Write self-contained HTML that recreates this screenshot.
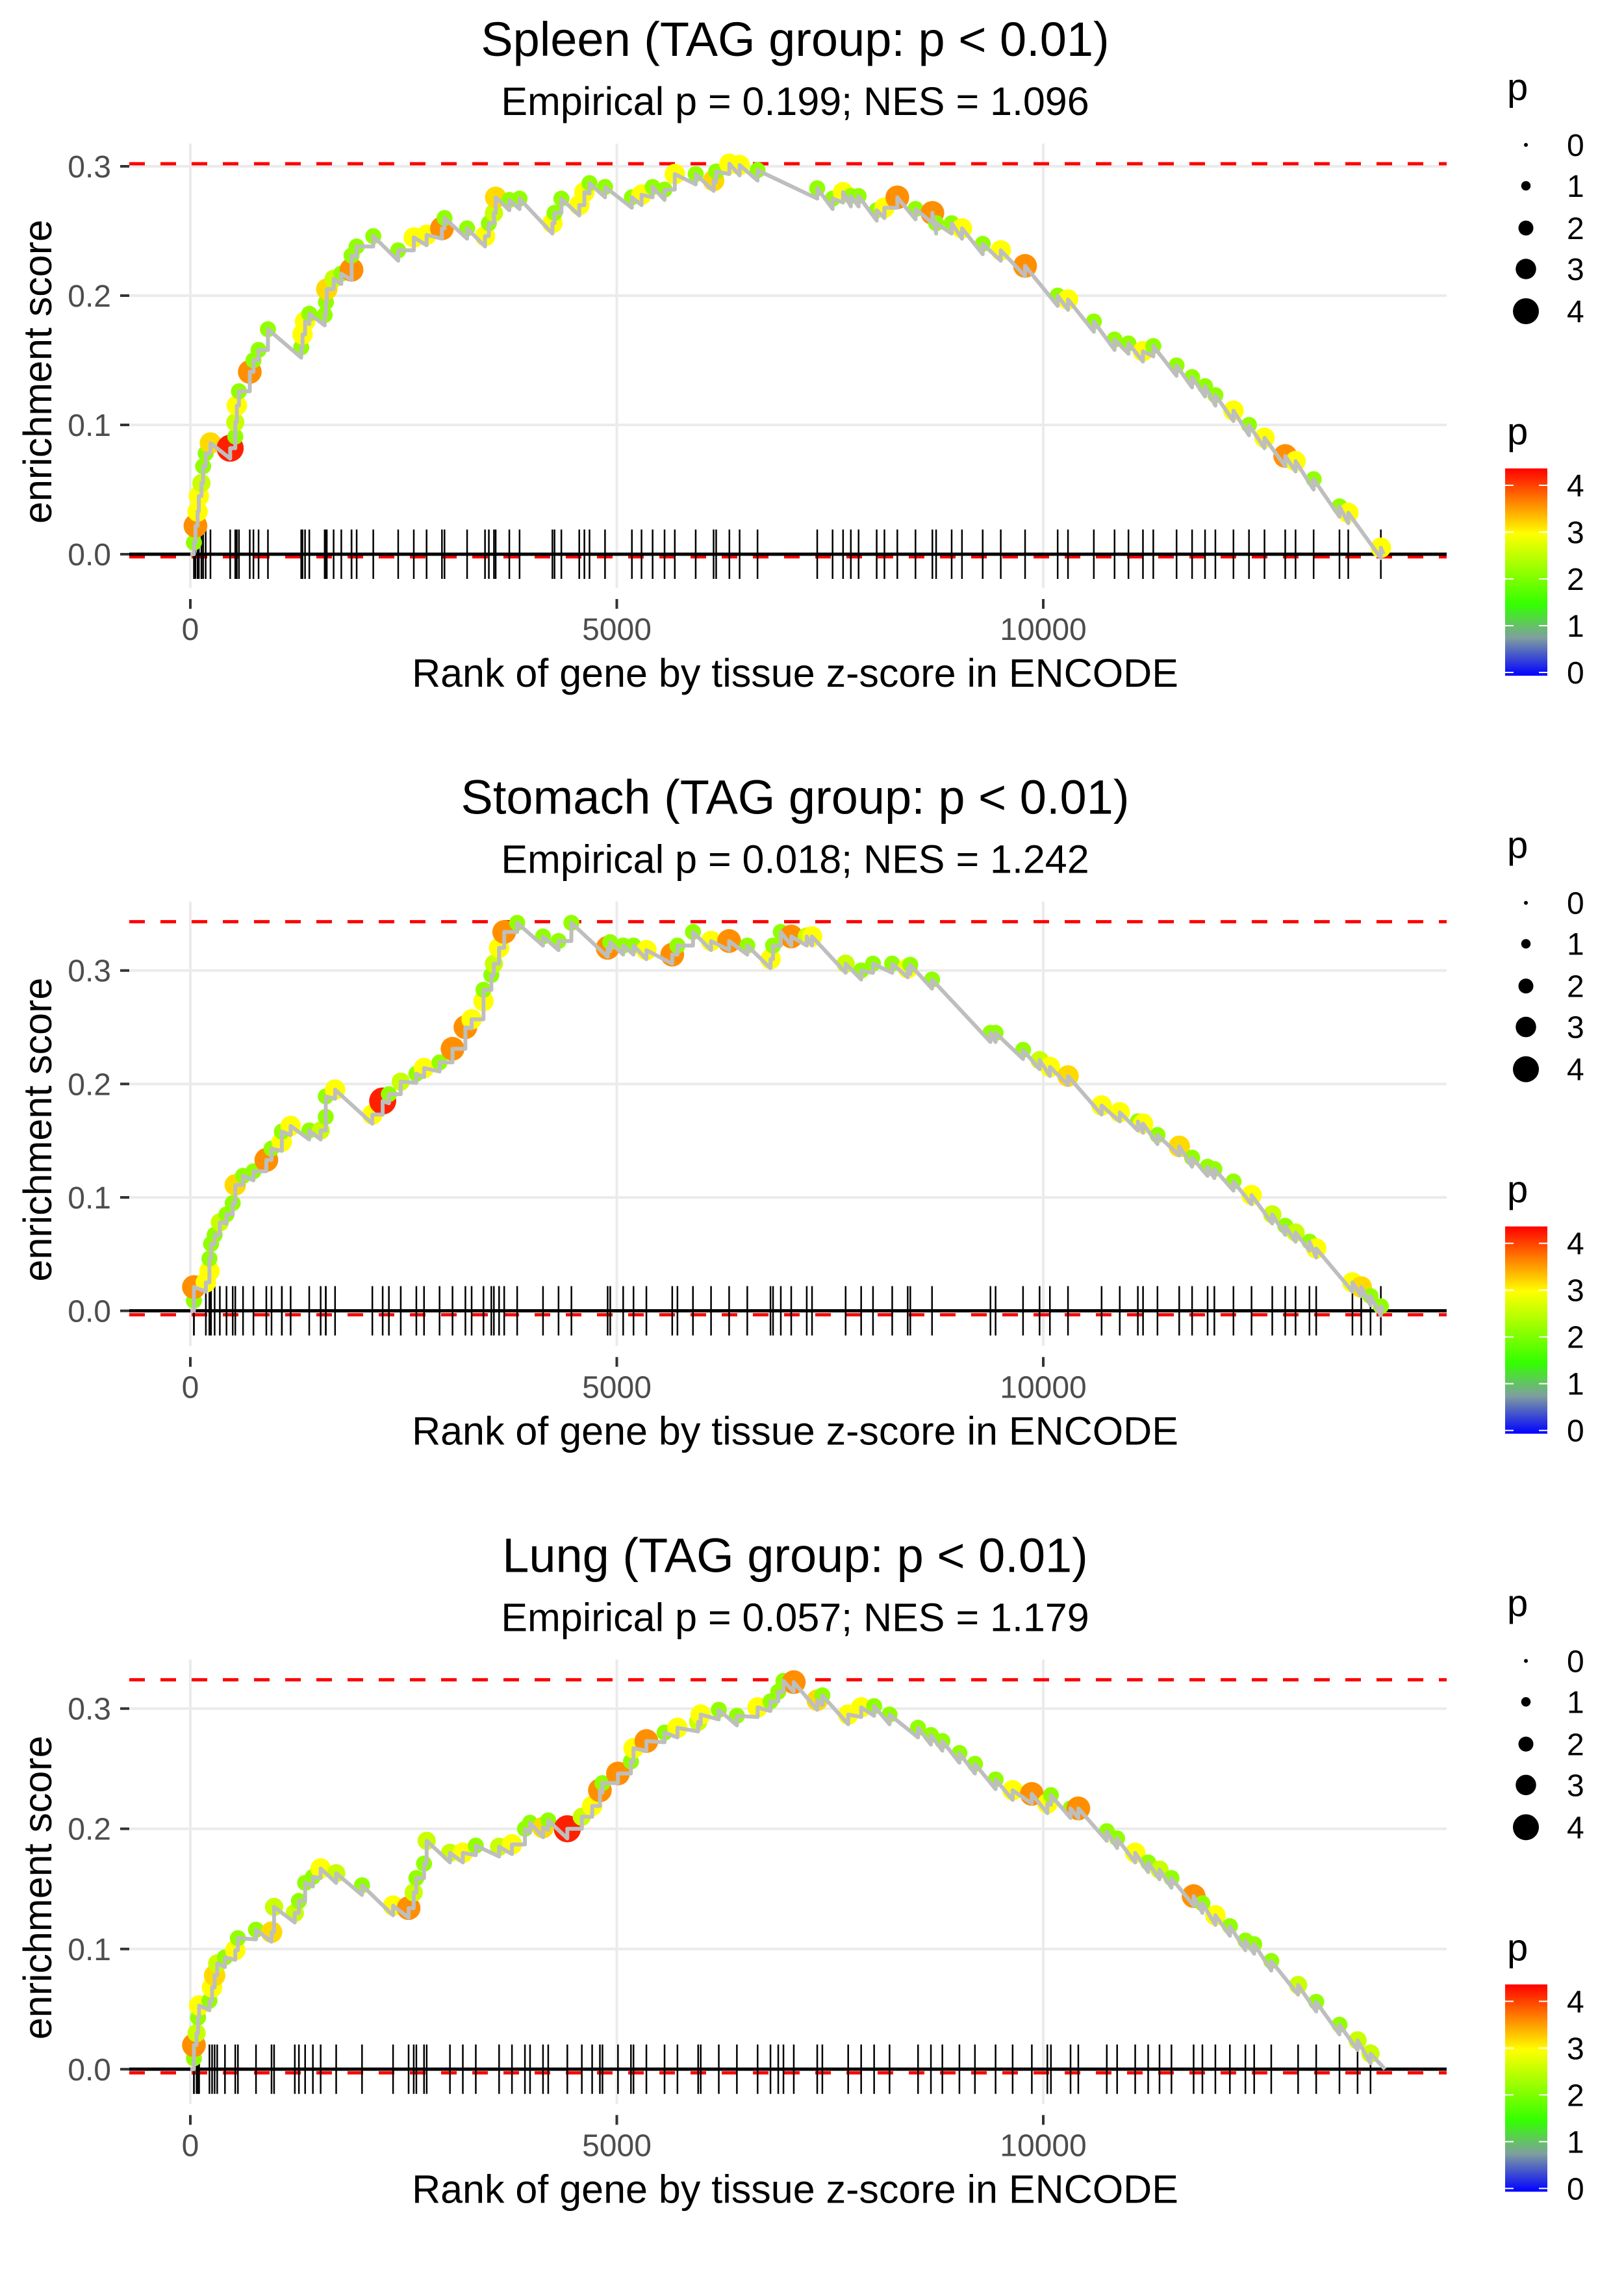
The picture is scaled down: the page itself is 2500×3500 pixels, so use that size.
<!DOCTYPE html>
<html><head><meta charset="utf-8"><style>
html,body{margin:0;padding:0;background:#fff;}
svg{display:block;font-family:"Liberation Sans",Arial,sans-serif;}
</style></head><body>
<svg id="chart" xmlns="http://www.w3.org/2000/svg" width="2500" height="3500" viewBox="0 0 2500 3500">
<defs>
<linearGradient id="pgrad" x1="0" y1="1" x2="0" y2="0">
<stop offset="0" stop-color="#0000ff"/>
<stop offset="0.183" stop-color="#7f9f9f"/>
<stop offset="0.343" stop-color="#33ff00"/>
<stop offset="0.686" stop-color="#ffff00"/>
<stop offset="1" stop-color="#ff0000"/>
</linearGradient>
</defs>
</svg>
<script>
// ---------- data ----------
const tissues = ["Spleen", "Stomach", "Lung"];
const empiricalP = ["0.199", "0.018", "0.057"];
const nesValues = ["1.096", "1.242", "1.179"];
const esMax = [0.302, 0.343, 0.324];
const esMin = [-0.002, -0.0035, -0.003];
const totalGenes = [13990, 13995, 14007];
const xTicks = [0, 5000, 10000];
const xTickLabels = ["0", "5000", "10000"];
const yTicks = [0, 0.1, 0.2, 0.3];
const yTickLabels = ["0.0", "0.1", "0.2", "0.3"];
const legendSizes = [0, 1, 2, 3, 4];

const ranks1 = [42,60,85,100,130,150,180,236,467,527,527,545,570,697,740,800,910,1300,1315,1345,1395,1575,1590,1600,1680,1770,1890,1890,1950,2145,2437,2620,2770,2950,2980,3245,3455,3500,3560,3580,3740,3860,4245,4270,4350,4560,4620,4680,4862,5177,5290,5420,5560,5680,5925,6135,6165,6320,6440,6650,7350,7530,7653,7744,7835,8047,8138,8289,8502,8700,8744,8926,9047,9290,9502,9787,10169,10290,10593,10836,10999,11169,11290,11563,11745,11897,12018,12230,12412,12594,12837,12958,13170,13473,13576,13958];
const es1 = [.009,.022,.033,.045,.055,.068,.078,.086,.082,.091,.102,.115,.126,.141,.150,.158,.174,.160,.170,.180,.186,.185,.195,.205,.213,.217,.220,.231,.238,.246,.235,.245,.247,.252,.260,.252,.246,.256,.264,.276,.274,.275,.256,.264,.275,.270,.280,.287,.284,.276,.278,.284,.282,.294,.294,.289,.296,.302,.301,.297,.283,.275,.280,.277,.277,.266,.268,.276,.267,.264,.256,.256,.252,.240,.235,.223,.200,.197,.180,.166,.163,.157,.161,.146,.137,.130,.123,.111,.100,.090,.076,.072,.058,.037,.032,.005];
const p1 = [2.2,3.6,3.0,3.0,2.6,2.2,2.2,3.2,4.2,2.2,2.6,3.0,2.2,3.6,2.2,2.2,2.2,2.2,3.0,3.0,2.2,2.2,2.2,3.2,2.6,2.2,3.6,2.2,2.2,2.2,2.2,3.0,3.0,3.6,2.2,2.2,3.0,2.2,2.6,3.2,2.2,2.2,3.0,2.2,2.2,3.0,3.0,2.2,2.2,2.2,3.0,2.2,2.2,3.0,2.2,3.2,2.2,3.0,3.0,2.2,2.2,2.2,3.0,2.2,2.2,2.2,3.0,3.6,2.2,3.6,2.2,2.2,3.0,2.2,3.0,3.6,2.2,3.0,2.2,2.2,2.2,3.0,2.2,2.2,2.2,2.2,2.2,3.0,2.2,3.0,3.6,3.0,2.2,2.2,3.0,3.0];

const ranks2 = [42,42,182,224,224,243,285,346,424,497,527,618,740,891,952,1073,1073,1176,1394,1528,1588,1588,1697,2134,2255,2328,2467,2650,2740,2922,3074,3225,3298,3437,3437,3529,3559,3620,3680,3832,4135,4317,4468,4893,4923,5075,5196,5347,5650,5711,5893,6105,6317,6530,6802,6832,6923,7045,7227,7289,7683,7865,8004,8229,8411,8441,8696,9381,9441,9763,9957,10078,10290,10684,10897,11109,11170,11339,11594,11745,11927,12006,12230,12442,12685,12837,12958,13121,13200,13625,13728,13837,13958];
const es2 = [.009,.021,.025,.035,.046,.059,.067,.078,.085,.095,.111,.119,.123,.133,.143,.149,.158,.163,.159,.159,.171,.189,.195,.173,.185,.191,.202,.209,.214,.219,.231,.250,.257,.273,.283,.296,.306,.320,.334,.342,.330,.326,.342,.320,.325,.322,.322,.318,.314,.322,.334,.326,.326,.322,.310,.322,.334,.330,.330,.330,.306,.300,.306,.306,.302,.305,.292,.245,.245,.230,.221,.215,.207,.181,.175,.167,.165,.155,.145,.135,.127,.125,.114,.102,.085,.075,.069,.061,.055,.025,.021,.013,.004];
const p2 = [2.2,3.6,3.0,3.0,2.2,2.2,2.2,2.6,2.2,2.2,3.2,2.2,2.2,3.6,2.2,3.0,2.2,3.0,2.2,2.6,2.2,2.2,3.0,3.0,4.2,2.2,2.6,2.2,3.0,2.2,3.6,3.6,3.0,3.0,2.2,2.2,2.6,3.0,3.6,2.2,2.2,2.2,2.2,3.6,2.2,2.2,2.2,3.0,3.6,2.2,2.2,3.0,3.6,2.2,3.0,2.2,2.2,3.6,2.6,3.0,2.6,2.2,2.2,2.2,3.0,2.2,2.2,2.2,2.2,2.2,2.6,3.0,3.2,3.0,3.0,2.2,3.0,2.2,3.2,2.2,2.2,2.2,2.2,3.0,2.6,2.2,2.6,2.2,3.0,3.0,3.2,2.2,2.2];

const ranks3 = [42,42,73,91,103,224,255,285,315,406,527,558,770,952,982,1225,1273,1346,1437,1528,1710,2013,2377,2559,2619,2650,2740,2771,3044,3195,3347,3620,3771,3923,3983,4135,4196,4420,4590,4711,4802,4832,5014,5166,5196,5347,5560,5711,5954,5984,6196,6408,6651,6802,6893,6954,7075,7350,7410,7713,7865,8017,8198,8532,8683,8817,9017,9199,9441,9641,9866,10048,10090,10320,10411,10745,10866,11078,11230,11363,11503,11763,11866,12018,12188,12370,12473,12673,12988,13200,13473,13685,13837];
const es3 = [.009,.020,.030,.043,.053,.057,.068,.078,.088,.093,.099,.109,.116,.114,.135,.130,.140,.155,.160,.167,.163,.153,.136,.134,.147,.159,.171,.190,.180,.180,.186,.185,.187,.200,.205,.201,.207,.200,.210,.219,.232,.238,.246,.256,.267,.273,.280,.284,.289,.295,.299,.294,.301,.306,.314,.323,.322,.307,.311,.295,.301,.302,.295,.284,.278,.273,.263,.254,.241,.232,.229,.221,.228,.217,.217,.198,.192,.180,.172,.166,.159,.144,.138,.128,.119,.107,.104,.090,.070,.056,.037,.024,.013];
const p3 = [2.2,3.6,2.6,2.2,3.0,2.2,3.0,3.2,2.6,2.2,3.0,2.2,2.2,3.2,2.6,2.6,2.2,2.2,2.2,3.0,2.6,2.2,3.0,3.6,2.6,2.2,2.2,2.6,2.6,3.0,2.2,2.6,3.0,2.2,2.2,3.2,2.2,4.2,2.6,3.0,3.6,2.2,3.6,2.2,3.0,3.6,2.2,3.0,2.6,3.0,2.2,2.2,3.0,2.2,2.2,2.2,3.6,3.2,2.2,3.0,3.0,2.2,2.2,2.2,2.2,2.2,2.2,2.2,2.2,3.0,3.6,3.0,2.2,2.2,3.6,2.2,2.2,3.0,2.2,2.6,2.2,3.6,2.2,3.0,2.2,2.2,2.2,2.2,2.6,2.2,2.2,2.6,2.6];

const allRanks = [ranks1, ranks2, ranks3];
const allES = [es1, es2, es3];
const allP = [p1, p2, p3];

// ---------- helpers ----------
const NS = "http://www.w3.org/2000/svg";
const svg = document.getElementById("chart");
const PANEL_H = 3500 / 3;
const X0 = 293, XPER = 0.1313;
const PLOT_L = 199, PLOT_R = 2227;
const Y_TOP = 252, Y_BOT = 857;
function xScale(r) { return X0 + r * XPER; }
function makeYScale(k) {
  const lo = esMin[k], hi = esMax[k];
  return v => Y_BOT - (v - lo) / (hi - lo) * (Y_BOT - Y_TOP);
}
function mk(tag, attrs, parent) {
  const e = document.createElementNS(NS, tag);
  for (const a in attrs) e.setAttribute(a, attrs[a]);
  parent.appendChild(e);
  return e;
}
const cStops = [[0,[0,0,255]],[0.8,[127,159,159]],[1.5,[51,255,0]],[3.0,[255,255,0]],[4.37,[255,0,0]]];
function pColor(p) {
  for (let i = 1; i < cStops.length; i++) {
    if (p <= cStops[i][0]) {
      const a = cStops[i-1], b = cStops[i];
      const t = (p - a[0]) / (b[0] - a[0]);
      const c = a[1].map((v, j) => Math.round(v + (b[1][j] - v) * t));
      return "rgb(" + c.join(",") + ")";
    }
  }
  return "rgb(255,0,0)";
}
function pRadius(p) { return 3 + 4.25 * p; }

for (let k = 0; k < 3; k++) {
  const g = mk("g", {transform: "translate(0," + (k * PANEL_H).toFixed(2) + ")"}, svg);
  
  
  const yS = makeYScale(k);
  const ranks = allRanks[k], es = allES[k], ps = allP[k];

  const t = mk("text", {x: 1224, y: 86, "text-anchor": "middle", "font-size": 74, fill: "#000"}, g);
  t.textContent = tissues[k] + " (TAG group: p < 0.01)";
  
  
  const st = mk("text", {x: 1224, y: 177, "text-anchor": "middle", "font-size": 61, fill: "#000"}, g);
  st.textContent = "Empirical p = " + empiricalP[k] + "; NES = " + nesValues[k];
  
  

  yTicks.forEach((v, i) => {
    const gl = mk("line", {x1: PLOT_L, x2: PLOT_R, y1: yS(v), y2: yS(v), stroke: "#ebebeb", "stroke-width": 4}, g);
    
    
    const tk = mk("line", {x1: 185, x2: 199, y1: yS(v), y2: yS(v), stroke: "#333", "stroke-width": 4}, g);
    
    
    const tl = mk("text", {x: 171, y: yS(v) + 17, "text-anchor": "end", "font-size": 48, fill: "#4d4d4d"}, g);
    tl.textContent = yTickLabels[i];
    
    
  });
  xTicks.forEach((v, i) => {
    const gl = mk("line", {x1: xScale(v), x2: xScale(v), y1: 221, y2: 905, stroke: "#ebebeb", "stroke-width": 4}, g);
    
    
    const tk = mk("line", {x1: xScale(v), x2: xScale(v), y1: 922, y2: 937, stroke: "#333", "stroke-width": 4}, g);
    
    
    const tl = mk("text", {x: xScale(v), y: 985, "text-anchor": "middle", "font-size": 48, fill: "#4d4d4d"}, g);
    tl.textContent = xTickLabels[i];
    
    
  });

  const xt = mk("text", {x: 1224, y: 1057, "text-anchor": "middle", "font-size": 61, fill: "#000"}, g);
  xt.textContent = "Rank of gene by tissue z-score in ENCODE";
  
  
  const yt = mk("text", {x: 0, y: 0, "text-anchor": "middle", "font-size": 61, fill: "#000", transform: "translate(79,572) rotate(-90)"}, g);
  yt.textContent = "enrichment score";
  
  

  [esMax[k], esMin[k]].forEach((v, i) => {
    const dl = mk("line", {x1: PLOT_L, x2: PLOT_R, y1: yS(v), y2: yS(v), stroke: "#ff0000", "stroke-width": 5, "stroke-dasharray": "24 24"}, g);
    
    
  });

  const y0 = yS(0);
  ranks.forEach(r => {
    const rl = mk("line", {x1: xScale(r), x2: xScale(r), y1: y0 - 38, y2: y0 + 38, stroke: "#000", "stroke-width": 2.5}, g);
    
    
  });
  const zl = mk("line", {x1: PLOT_L, x2: PLOT_R, y1: y0, y2: y0, stroke: "#000", "stroke-width": 5}, g);
  
  

  ranks.forEach((r, i) => {
    const c = mk("circle", {cx: xScale(r), cy: yS(es[i]), r: pRadius(ps[i]), fill: pColor(ps[i])}, g);
    
    
  });

  let pts = [[xScale(0), yS(0)]];
  let prev = 0;
  ranks.forEach((r, i) => {
    const valley = Math.min(prev, es[i] - 0.008);
    pts.push([xScale(r), yS(valley)]);
    pts.push([xScale(r), yS(es[i])]);
    prev = es[i];
  });
  pts.push([xScale(totalGenes[k]), yS(0)]);
  const pl = mk("polyline", {points: pts.map(p => p[0].toFixed(1) + "," + p[1].toFixed(1)).join(" "), fill: "none", stroke: "#bebebe", "stroke-width": 6, "stroke-linejoin": "round"}, g);
  
  

  const lt = mk("text", {x: 2320, y: 154, "font-size": 58, fill: "#000"}, g);
  lt.textContent = "p";
  
  
  const legY = [223, 286, 351, 414, 479];
  legendSizes.forEach((v, i) => {
    const c = mk("circle", {cx: 2349, cy: legY[i], r: pRadius(v), fill: "#000"}, g);
    
    
    const tx = mk("text", {x: 2412, y: legY[i] + 17, "font-size": 48, fill: "#000"}, g);
    tx.textContent = String(v);
    
    
  });

  const ct = mk("text", {x: 2320, y: 684, "font-size": 58, fill: "#000"}, g);
  ct.textContent = "p";
  
  
  const bar = mk("rect", {x: 2317, y: 721, width: 65, height: 319, fill: "url(#pgrad)"}, g);
  
  
  legendSizes.forEach(v => {
    const yy = 1035 - v * 72;
    const a = mk("line", {x1: 2317, x2: 2330, y1: yy, y2: yy, stroke: "#fff", "stroke-width": 2}, g);
    
    
    const b = mk("line", {x1: 2369, x2: 2382, y1: yy, y2: yy, stroke: "#fff", "stroke-width": 2}, g);
    
    
    const tx = mk("text", {x: 2412, y: yy + 17, "font-size": 48, fill: "#000"}, g);
    tx.textContent = String(v);
    
    
  });
}
</script>
</body></html>
